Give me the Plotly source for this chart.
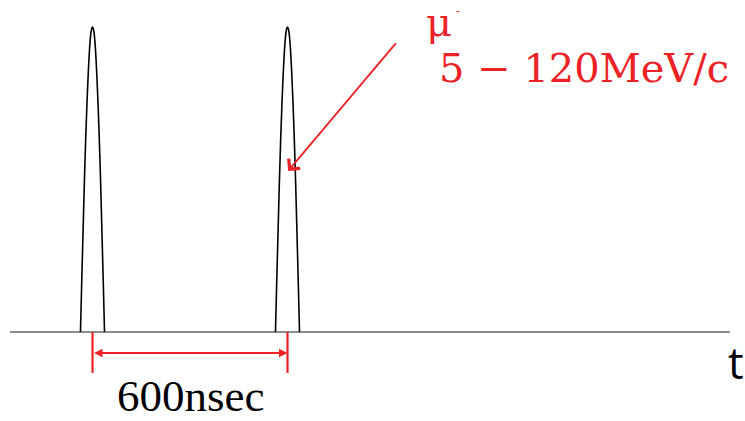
import plotly.graph_objects as go

# ---- data -----------------------------------------------------------------
pulse_times_ns = [0, 600]                       # bunch arrival times
pulse_offsets_ns = [-37, -33, -29, -25, -21, -17, -13, -9, -5, -2, 0,
                    2, 5, 9, 13, 17, 21, 25, 29, 33, 37]
pulse_heights = [0.0, 0.17, 0.33, 0.49, 0.63, 0.75, 0.85, 0.93, 0.98, 0.996, 1.0,
                 0.996, 0.98, 0.93, 0.85, 0.75, 0.63, 0.49, 0.33, 0.17, 0.0]
particle_label = "μ"
momentum_label = "5 − 120MeV/c"
axis_label = "t"

# ---- layout constants -----------------------------------------------------
W, H = 745, 421
X_RANGE = [-284.6, 2007.7]       # ns across the full width
Y_RANGE = [-0.2918, 1.0885]      # relative pulse height across the full height
BASE_START, BASE_END = -254, 1961
RED = "#ec2227"

fig = go.Figure()

# time axis line
fig.add_shape(type="line", x0=BASE_START, x1=BASE_END, y0=0, y1=0,
              line=dict(color="#1a1a1a", width=1.2))

# the two bunch pulses
for t0 in pulse_times_ns:
    fig.add_trace(go.Scatter(
        x=[t0 + o for o in pulse_offsets_ns], y=pulse_heights,
        mode="lines", line=dict(color="black", width=1.6, shape="spline", smoothing=0.6),
        hoverinfo="skip", showlegend=False))

# spacing marker between pulses
t_a, t_b = pulse_times_ns
for t in (t_a, t_b):
    fig.add_shape(type="line", x0=t, x1=t, y0=0, y1=-0.134,
                  line=dict(color=RED, width=2.2))
fig.add_annotation(x=t_b, y=-0.069, ax=t_a, ay=-0.069, xref="x", yref="y",
                   axref="x", ayref="y", text="", showarrow=True,
                   arrowside="end+start", arrowhead=2, startarrowhead=2,
                   arrowsize=0.85, startarrowsize=0.85, arrowwidth=2, arrowcolor=RED)

# pointer to the second pulse
fig.add_annotation(x=t_b + 2, y=0.528, ax=937, ay=0.951, xref="x", yref="y",
                   axref="x", ayref="y", text="", showarrow=True,
                   arrowhead=4, arrowsize=1.6, arrowwidth=1.8, arrowcolor=RED)


def px(x, y):
    return x / W, 1 - y / H


# text labels
spacing = t_b - t_a
x, y = px(190, 396)
fig.add_annotation(x=x, y=y, xref="paper", yref="paper", text=f"{spacing}nsec",
                   showarrow=False, xanchor="center", yanchor="middle",
                   font=dict(family="Liberation Serif", size=45, color="black"))
x, y = px(736, 362)
fig.add_annotation(x=x, y=y, xref="paper", yref="paper", text=axis_label,
                   showarrow=False, xanchor="center", yanchor="middle",
                   font=dict(family="Open Sans", size=44, color="black"))
x, y = px(439, 22)
fig.add_annotation(x=x, y=y, xref="paper", yref="paper", text=particle_label,
                   showarrow=False, xanchor="center", yanchor="middle",
                   font=dict(family="DejaVu Serif", size=40, color=RED))
x, y = px(458, 11)
fig.add_annotation(x=x, y=y, xref="paper", yref="paper", text="-",
                   showarrow=False, xanchor="center", yanchor="middle",
                   font=dict(family="DejaVu Sans", size=11, color=RED))
x, y = px(584, 68)
fig.add_annotation(x=x, y=y, xref="paper", yref="paper", text=momentum_label,
                   showarrow=False, xanchor="center", yanchor="middle",
                   font=dict(family="DejaVu Serif", size=40, color=RED))

fig.update_xaxes(range=X_RANGE, visible=False, fixedrange=True)
fig.update_yaxes(range=Y_RANGE, visible=False, fixedrange=True)
fig.update_layout(width=W, height=H, margin=dict(l=0, r=0, t=0, b=0),
                  paper_bgcolor="white", plot_bgcolor="white", showlegend=False)

fig.write_html("out.html")
